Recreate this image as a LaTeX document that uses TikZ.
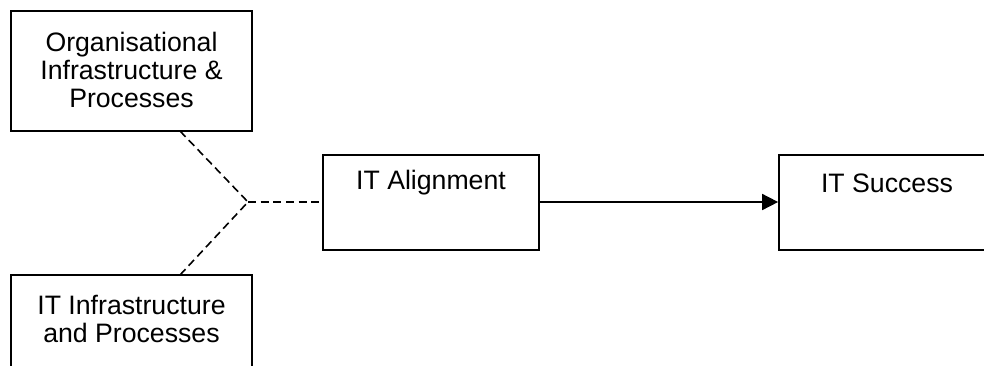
\documentclass[tikz,border=0pt]{standalone}
\usepackage{fontspec}
\setmainfont{Liberation Sans}
\usetikzlibrary{arrows.meta}
\begin{document}
\begin{tikzpicture}[x=0.75pt,y=-0.75pt,
  boxnode/.style={draw,line width=1.3pt,rectangle,inner sep=0pt},
  txt/.style={align=center,inner sep=0pt,font=\fontsize{20}{21}\selectfont},
  dashline/.style={line width=1.2pt,dash pattern=on 6pt off 3.5pt},
  arrowline/.style={line width=1.3pt,-{Triangle[length=12pt,width=12pt]}}]
\clip (0,0) rectangle (984,365);
\fill[white] (0,0) rectangle (984,365);
\node[boxnode,minimum width=180.75pt,minimum height=90pt] (org) at (131.5,71) {};
\node[txt] (orgt) at (131.5,70) {Organisational\\Infrastructure \&\\Processes};
\node[boxnode,minimum width=180.75pt,minimum height=90pt] (itinf) at (131.5,335) {};
\node[txt] (itinft) at (131.5,318.5) {IT Infrastructure\\and Processes};
\node[boxnode,minimum width=162pt,minimum height=71.25pt] (align) at (431,202.5) {};
\node[txt] (alignt) at (431,183) {IT Alignment};
\node[boxnode,minimum width=162pt,minimum height=71.25pt] (succ) at (887,202.5) {};
\node[txt] (succt) at (887,183) {IT Success};
\coordinate (j) at (248,202);
\coordinate (o1) at (180,131);
\coordinate (i1) at (180,275);
\draw[dashline] (o1) -- (j);
\draw[dashline] (i1) -- (j);
\draw[dashline] (j) -- (align.west |- j);
\draw[arrowline] (align.east |- j) -- (succ.west |- j);
\end{tikzpicture}
\end{document}
